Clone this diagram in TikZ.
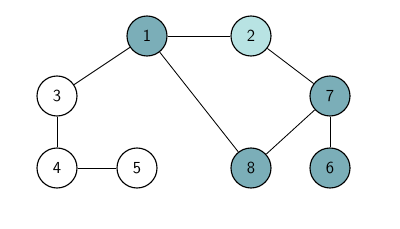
\documentclass[tikz,border=0pt]{standalone}
\usepackage{tikz}
\definecolor{tealdark}{HTML}{7BAEB8}
\definecolor{teallight}{HTML}{B8E3E3}

\begin{document}
\begin{tikzpicture}[x=0.025cm,y=-0.025cm,
    vert/.style={circle, draw, thick, minimum size=1cm, inner sep=0pt, font=\sffamily\large}]
    \useasboundingbox (0,0) rectangle (400,229);
    \node[vert, fill=tealdark] (n1) at (147,36) {1};
    \node[vert, fill=teallight] (n2) at (251,36) {2};
    \node[vert, fill=white] (n3) at (57,96) {3};
    \node[vert, fill=white] (n4) at (57,168) {4};
    \node[vert, fill=white] (n5) at (137,168) {5};
    \node[vert, fill=tealdark] (n7) at (330,96) {7};
    \node[vert, fill=tealdark] (n8) at (251,168) {8};
    \node[vert, fill=tealdark] (n6) at (330,168) {6};
    \foreach \a/\b in {n1/n2,n1/n3,n1/n8,n2/n7,n3/n4,n4/n5,n7/n8,n7/n6}
        {\draw[semithick] (\a) -- (\b);}
\end{tikzpicture}
\end{document}
